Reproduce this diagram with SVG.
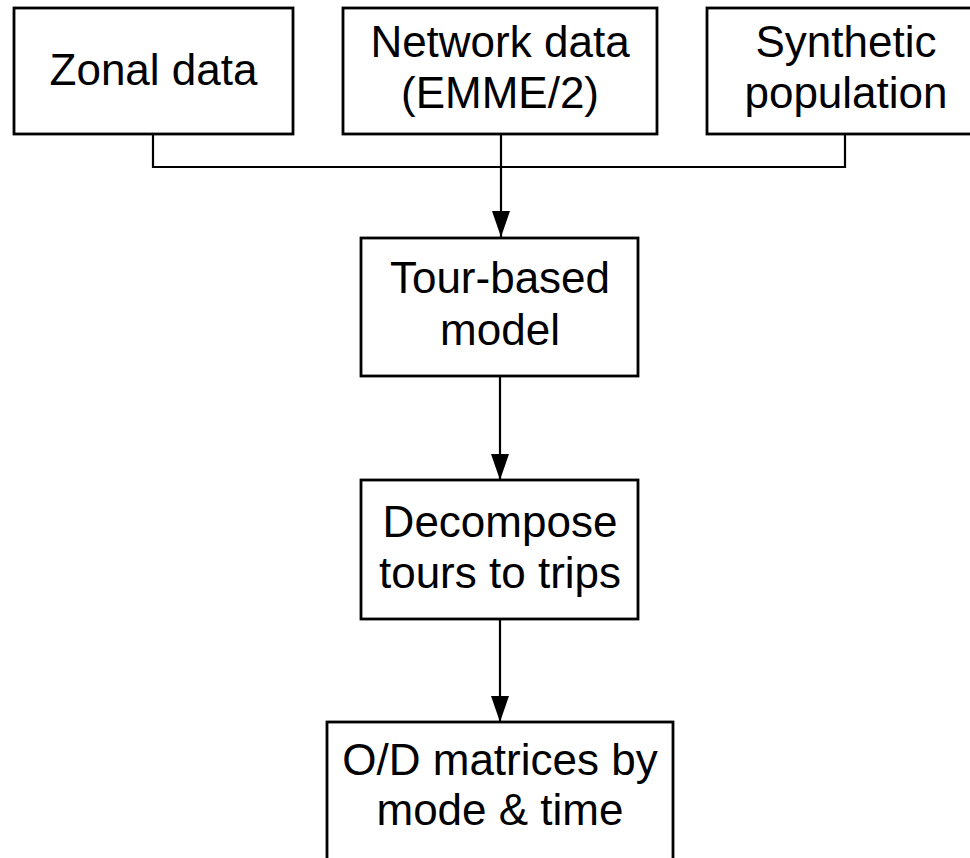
<svg xmlns="http://www.w3.org/2000/svg" width="970" height="858" viewBox="0 0 970 858">
<defs>
<style>
.box{fill:#fff;stroke:#000;stroke-width:2.8}
.lbl{font-family:"Liberation Sans",Arial,sans-serif;font-size:44px;fill:#000;text-anchor:middle}
.con{fill:none;stroke:#000;stroke-width:2.2}
</style>
<marker id="arr" markerUnits="userSpaceOnUse" markerWidth="26" markerHeight="18" refX="18" refY="9" orient="auto" viewBox="0 0 18 18" preserveAspectRatio="none">
<path d="M0,0 L18,9 L0,18 Z" fill="#000"/>
</marker>
</defs>
<rect width="970" height="858" fill="#fff"/>
<g id="connectors">
<path class="con" d="M153,134 V167 H845 V134"/>
<path class="con" d="M501,134 V237" marker-end="url(#arr)"/>
<path class="con" d="M500,376 V480" marker-end="url(#arr)"/>
<path class="con" d="M500,619 V722" marker-end="url(#arr)"/>
</g>
<g id="zonal">
<rect class="box" x="14" y="8" width="279" height="126"/>
<text class="lbl" x="153.5" y="85">Zonal data</text>
</g>
<g id="network">
<rect class="box" x="343" y="8" width="314" height="126"/>
<text class="lbl" x="500" y="57">Network data</text>
<text class="lbl" x="500" y="108">(EMME/2)</text>
</g>
<g id="synthetic">
<rect class="box" x="707" y="8" width="277" height="126"/>
<text class="lbl" x="846" y="57">Synthetic</text>
<text class="lbl" x="846" y="108">population</text>
</g>
<g id="tour">
<rect class="box" x="361" y="238" width="277" height="138"/>
<text class="lbl" x="500" y="293">Tour-based</text>
<text class="lbl" x="500" y="345">model</text>
</g>
<g id="decompose">
<rect class="box" x="361" y="480" width="277" height="139"/>
<text class="lbl" x="500" y="537">Decompose</text>
<text class="lbl" x="500" y="588">tours to trips</text>
</g>
<g id="od">
<rect class="box" x="327" y="722" width="346" height="150"/>
<text class="lbl" x="500" y="775">O/D matrices by</text>
<text class="lbl" x="500" y="825">mode &amp; time</text>
</g>
</svg>
